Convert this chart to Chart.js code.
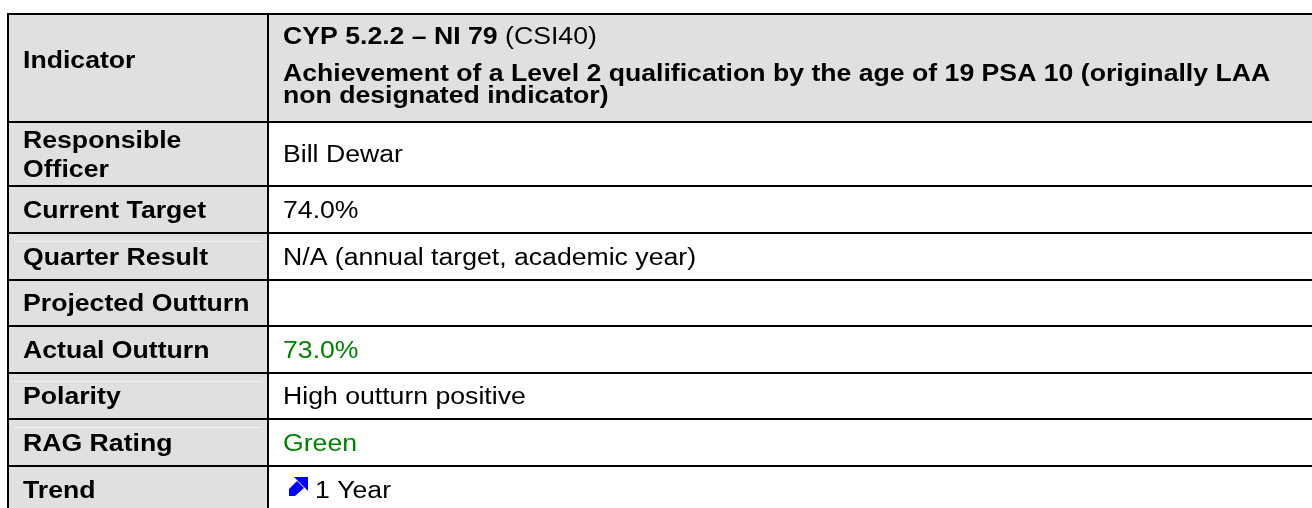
<!DOCTYPE html>
<html>
<head>
<meta charset="utf-8">
<script src="https://cdn.jsdelivr.net/npm/chart.js@4"></script>
<style>
  body { margin: 0; background: #fff; }
</style>
</head>
<body>
<canvas id="chart" width="1312" height="508"></canvas>
<script>
// table content
const rowLabels = [
  ["Indicator"],
  ["Responsible", "Officer"],
  ["Current Target"],
  ["Quarter Result"],
  ["Projected Outturn"],
  ["Actual Outturn"],
  ["Polarity"],
  ["RAG Rating"],
  ["Trend"]
];
const rowValues = [
  "",
  "Bill Dewar",
  "74.0%",
  "N/A (annual target, academic year)",
  "",
  "73.0%",
  "High outturn positive",
  "Green",
  "1 Year"
];
const valueIsGreen = [false, false, false, false, false, true, false, true, false];
const headerCode = "CYP 5.2.2 – NI 79";
const headerRef = "(CSI40)";
const headerTitle = [
  "Achievement of a Level 2 qualification by the age of 19 PSA 10 (originally LAA",
  "non designated indicator)"
];
const trendUp = true;

// layout
const rowEdges = [14, 122, 186, 233, 280, 326, 373, 419, 466, 540];
const leftX = 8, splitX = 268, rightX = 1320;
const fontFamily = "'Liberation Sans', Arial, sans-serif";
const fontSize = 23;
const stretch = 1.158;

function drawText(ctx, str, x, y, bold, color) {
  ctx.save();
  ctx.font = (bold ? "bold " : "") + fontSize + "px " + fontFamily;
  ctx.fillStyle = color;
  ctx.textBaseline = "alphabetic";
  ctx.translate(x, y);
  ctx.scale(stretch, 1);
  ctx.fillText(str, 0, 0);
  const w = ctx.measureText(str).width * stretch;
  ctx.restore();
  return w;
}

function drawArrow(ctx, x, y) {
  ctx.save();
  ctx.fillStyle = "#0000ff";
  // head
  ctx.beginPath();
  ctx.moveTo(x + 5, y);
  ctx.lineTo(x + 19, y);
  ctx.lineTo(x + 19, y + 14);
  ctx.closePath();
  ctx.fill();
  // thick shaft
  ctx.beginPath();
  ctx.moveTo(x + 8, y + 4);
  ctx.lineTo(x + 15, y + 11);
  ctx.lineTo(x + 6, y + 19);
  ctx.lineTo(x, y + 19);
  ctx.lineTo(x, y + 12);
  ctx.closePath();
  ctx.fill();
  ctx.restore();
}

const tablePlugin = {
  id: "tablePlugin",
  beforeDraw(chart) {
    const ctx = chart.ctx;
    ctx.save();
    ctx.fillStyle = "#ffffff";
    ctx.fillRect(0, 0, chart.width, chart.height);

    // backgrounds
    ctx.fillStyle = "#e0e0e0";
    ctx.fillRect(leftX, rowEdges[0], splitX - leftX, rowEdges[rowEdges.length - 1] - rowEdges[0]);
    ctx.fillRect(splitX, rowEdges[0], rightX - splitX, rowEdges[1] - rowEdges[0]);

    // faint lines inside some label cells
    ctx.strokeStyle = "#f2f2f2";
    ctx.lineWidth = 1;
    [3, 6, 7].forEach(i => {
      ctx.beginPath();
      ctx.moveTo(leftX + 6, rowEdges[i] + 8.5);
      ctx.lineTo(splitX - 6, rowEdges[i] + 8.5);
      ctx.stroke();
    });

    // texts
    rowLabels.forEach((lines, i) => {
      const top = rowEdges[i];
      const bottom = i === rowLabels.length - 1 ? top + 47 : rowEdges[i + 1];
      const center = (top + bottom) / 2;
      if (i === 0) {
        drawText(ctx, lines[0], 23, 68, true, "#000");
        const w = drawText(ctx, headerCode, 283, 44, true, "#000");
        drawText(ctx, " " + headerRef, 283 + w, 44, false, "#000");
        drawText(ctx, headerTitle[0], 283, 81, true, "#000");
        drawText(ctx, headerTitle[1], 283, 103, true, "#000");
        return;
      }
      lines.forEach((ln, k) => {
        const base = center + 8 - (lines.length - 1) * 29 / 2 + k * 29;
        drawText(ctx, ln, 23, base, true, "#000");
      });
      const val = rowValues[i];
      if (!val) return;
      const color = valueIsGreen[i] ? "#008000" : "#000";
      if (i === rowLabels.length - 1) {
        if (trendUp) drawArrow(ctx, 289, 477);
        drawText(ctx, val, 315, center + 8, false, color);
      } else {
        drawText(ctx, val, 283, center + 8, false, color);
      }
    });

    // grid lines
    ctx.strokeStyle = "#000";
    ctx.lineWidth = 2;
    ctx.beginPath();
    rowEdges.slice(0, -1).forEach(y => {
      ctx.moveTo(leftX - 1, y);
      ctx.lineTo(rightX, y);
    });
    ctx.moveTo(leftX, rowEdges[0]);
    ctx.lineTo(leftX, 540);
    ctx.moveTo(splitX, rowEdges[0]);
    ctx.lineTo(splitX, 540);
    ctx.stroke();
    ctx.restore();
  }
};

new Chart(document.getElementById("chart").getContext("2d"), {
  type: "bar",
  data: {
    labels: rowLabels.map(l => l.join(" ")),
    datasets: [{ data: [], backgroundColor: "rgba(0,0,0,0)" }]
  },
  options: {
    responsive: false,
    animation: false,
    events: [],
    layout: { padding: 0 },
    scales: { x: { display: false }, y: { display: false } },
    plugins: { legend: { display: false }, tooltip: { enabled: false } }
  },
  plugins: [tablePlugin]
});
</script>
</body>
</html>
